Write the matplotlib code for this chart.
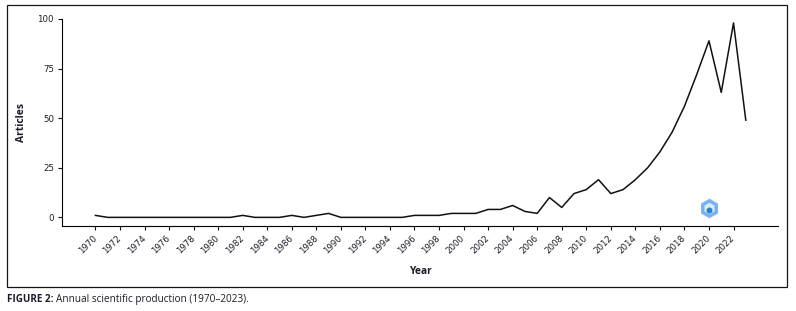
import matplotlib
matplotlib.use("Agg")
import matplotlib.pyplot as plt
from matplotlib.patches import Rectangle

years = list(range(1970, 2024))
articles = [1, 0, 0, 0, 0, 0, 0, 0, 0, 0,
            0, 0, 1, 0, 0, 0, 1, 0, 1, 2,
            0, 0, 0, 0, 0, 0, 1, 1, 1, 2,
            2, 2, 4, 4, 6, 3, 2, 10, 5, 12,
            14, 19, 12, 14, 19, 25, 33, 43, 56, 72,
            89, 63, 98, 49]
y_ticks = [0, 25, 50, 75, 100]
x_ticks = list(range(1970, 2023, 2))
logo_year = 2020
logo_value = 4.5

W, H = 796, 311
TEXT = "#1c1c2a"

fig = plt.figure(figsize=(W / 100, H / 100), dpi=100)
ax = fig.add_axes([62.3 / W, 1 - 226.3 / H, (777.7 - 62.3) / W, (226.3 - 19) / H])

ax.plot(years, articles, color="#111111", lw=1.1)

# little hexagon badge sitting over the plot
ax.scatter([logo_year], [logo_value], marker="h", s=170, color="#6fb4ee",
           edgecolor="#8fb0ea", linewidth=1.0, zorder=3)
ax.scatter([logo_year], [logo_value], marker="h", s=70, color="#d8ecfb", linewidth=0, zorder=4)
ax.scatter([logo_year], [logo_value - 0.7], marker="h", s=22, color="#2f7fc4", linewidth=0, zorder=5)

ax.set_xlim(1967.3, 2025.6)
ax.set_ylim(-4.5, 100)
ax.set_xticks(x_ticks)
ax.set_yticks(y_ticks)
ax.set_xticklabels(x_ticks, rotation=45, ha="right", va="center", rotation_mode="anchor",
                   fontsize=6.2, color=TEXT)
ax.set_yticklabels(y_ticks, fontsize=6.2, color=TEXT)
ax.tick_params(axis="both", length=3, width=0.8, color="#111111", pad=3)
ax.tick_params(axis="x", pad=4.5)

ax.spines["top"].set_visible(False)
ax.spines["right"].set_visible(False)
ax.spines["left"].set_linewidth(0.8)
ax.spines["bottom"].set_linewidth(0.8)

fig.text(420 / W, 1 - 271 / H, "Year", fontsize=7.4, fontweight="bold", color=TEXT,
         family="Open Sans", ha="center", va="center")
fig.text(21 / W, 1 - 123 / H, "Articles", fontsize=7.4, fontweight="bold", color=TEXT,
         family="Open Sans", rotation=90, ha="center", va="center")

# outer frame around the whole figure
fig.add_artist(Rectangle((7.3 / W, 1 - 287 / H), (786.7 - 7.3) / W, (287 - 4.7) / H,
                         transform=fig.transFigure, fill=False,
                         edgecolor="#1a1414", linewidth=0.9))

fig.text(7.3 / W, 1 - 299.5 / H, "FIGURE 2:", fontsize=7.1, fontweight="bold", color=TEXT,
         family="Open Sans", ha="left", va="center")
fig.text(56.5 / W, 1 - 299.5 / H, "Annual scientific production (1970\u20132023).", fontsize=7.2,
         color=TEXT, family="Open Sans", ha="left", va="center")

fig.savefig("out.png", dpi=100)
